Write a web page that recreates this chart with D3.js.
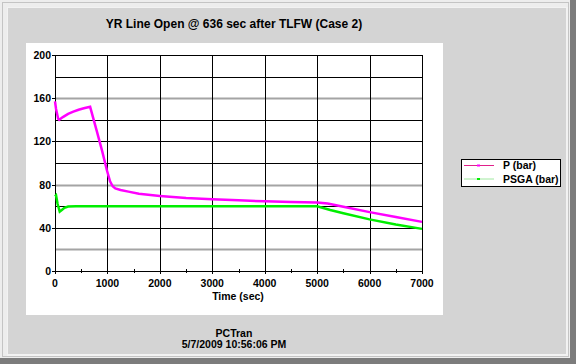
<!DOCTYPE html>
<html>
<head>
<meta charset="utf-8">
<script src="https://cdnjs.cloudflare.com/ajax/libs/d3/7.8.5/d3.min.js"></script>
<style>
  html, body { margin: 0; padding: 0; background: #d4d4d4; }
  svg text { font-family: "Liberation Sans", Arial, sans-serif; font-weight: bold; fill: #000; }
</style>
</head>
<body>
<div id="chart"></div>
<script>
const width = 576, height = 364;

// chart values
var title = "YR Line Open @ 636 sec after TLFW (Case 2)";
var xLabel = "Time (sec)";
var footer = ["PCTran", "5/7/2009 10:56:06 PM"];
var seriesNames = ["P (bar)", "PSGA (bar)"];
var seriesColors = ["#ff00ff", "#00ee00"];

var pTime = [0, 20, 60, 80, 150, 250, 350, 450, 550, 670, 800, 900, 986, 1050, 1100, 1150, 1250, 1400, 1600, 2000, 2500, 3000, 3500, 4000, 4500, 5000, 5200, 5500, 6000, 6500, 7000];
var pValues = [157, 150, 141, 140, 142.5, 145.5, 147.5, 149.3, 150.7, 152, 129, 111, 94, 83, 78.5, 76.5, 75, 73.5, 71.5, 69.5, 67.5, 66.5, 65.5, 64.5, 64, 63.5, 62.5, 59.5, 54.5, 50, 45.5];

var psgaTime = [0, 20, 50, 90, 130, 180, 250, 400, 1000, 2000, 3000, 4000, 5000, 5250, 5500, 6000, 6500, 7000];
var psgaValues = [69, 70, 62, 55, 56.5, 58.5, 59.7, 60, 60, 60, 60, 60, 60, 56.5, 53.5, 47.8, 43, 39];

var xTicks = [0, 1000, 2000, 3000, 4000, 5000, 6000, 7000];
var xMinorTicks = [500, 1500, 2500, 3500, 4500, 5500, 6500];
var yTicks = [0, 40, 80, 120, 160, 200];
var yGrid = [20, 40, 60, 80, 100, 120, 140, 160, 180, 200];
var yGridGray = [20, 80, 160];

const svg = d3.select("#chart").append("svg")
    .attr("width", width)
    .attr("height", height);

// window frame
svg.append("rect").attr("x", 0).attr("y", 0).attr("width", width).attr("height", height).attr("fill", "#ededed");
svg.append("rect").attr("x", 2.5).attr("y", 2.5).attr("width", 566).attr("height", 354)
    .attr("fill", "none").attr("stroke", "#c4c4c4");
svg.append("rect").attr("x", 570).attr("y", 0).attr("width", 6).attr("height", height).attr("fill", "#7c7c7c");
svg.append("rect").attr("x", 0).attr("y", 358).attr("width", width).attr("height", 6).attr("fill", "#7c7c7c");
svg.append("rect").attr("x", 7).attr("y", 7).attr("width", 561).attr("height", 349).attr("fill", "#f2f2f2");
svg.append("rect").attr("x", 8).attr("y", 8).attr("width", 558).attr("height", 346).attr("fill", "#d4d4d4");

// white plot panel
svg.append("rect").attr("x", 26).attr("y", 43).attr("width", 417).attr("height", 272).attr("fill", "#ffffff");

const x = d3.scaleLinear().domain([0, 7000]).range([55, 422]);
const y = d3.scaleLinear().domain([0, 200]).range([271, 55]);

// grid
svg.append("g").selectAll("line")
    .data(yGrid)
    .enter()
    .append("line")
    .attr("x1", x(0)).attr("x2", x(7000))
    .attr("y1", function(d) { return Math.round(y(d)) + 0.5; })
    .attr("y2", function(d) { return Math.round(y(d)) + 0.5; })
    .attr("stroke", function(d) { return yGridGray.includes(d) ? "#a4a4a4" : "#000"; })
    .attr("stroke-width", function(d) { return yGridGray.includes(d) ? 2 : 1; });

svg.append("g").selectAll("line")
    .data(xTicks.slice(1))
    .enter()
    .append("line")
    .attr("x1", function(d) { return Math.round(x(d)) + 0.5; })
    .attr("x2", function(d) { return Math.round(x(d)) + 0.5; })
    .attr("y1", y(200)).attr("y2", y(0) + 3)
    .attr("stroke", "#000");

// minor ticks on x axis
svg.append("g").selectAll("line")
    .data(xMinorTicks)
    .enter()
    .append("line")
    .attr("x1", function(d) { return Math.round(x(d)) + 0.5; })
    .attr("x2", function(d) { return Math.round(x(d)) + 0.5; })
    .attr("y1", y(0) - 2).attr("y2", y(0) + 2)
    .attr("stroke", "#000");

// axes lines
svg.append("line").attr("x1", x(0) + 0.5).attr("x2", x(0) + 0.5).attr("y1", y(200)).attr("y2", y(0) + 3).attr("stroke", "#000");
svg.append("line").attr("x1", x(0) - 3).attr("x2", x(7000) + 1).attr("y1", y(0) + 0.5).attr("y2", y(0) + 0.5).attr("stroke", "#000");

// y ticks + labels
svg.append("g").selectAll("line")
    .data(yTicks)
    .enter()
    .append("line")
    .attr("x1", x(0) - 3).attr("x2", x(0))
    .attr("y1", function(d) { return Math.round(y(d)) + 0.5; })
    .attr("y2", function(d) { return Math.round(y(d)) + 0.5; })
    .attr("stroke", "#000");

svg.append("g").selectAll("text")
    .data(yTicks)
    .enter()
    .append("text")
    .attr("x", 51)
    .attr("y", function(d) { return y(d) + 4; })
    .attr("text-anchor", "end")
    .attr("font-size", "10.5px")
    .text(function(d) { return d; });

svg.append("g").selectAll("text")
    .data(xTicks)
    .enter()
    .append("text")
    .attr("x", function(d) { return x(d); })
    .attr("y", 287)
    .attr("text-anchor", "middle")
    .attr("font-size", "10.5px")
    .text(function(d) { return d; });

svg.append("text")
    .attr("x", 238).attr("y", 300)
    .attr("text-anchor", "middle")
    .attr("font-size", "10.5px")
    .text(xLabel);

// series lines
var line = d3.line()
    .x(function(d) { return x(d[0]); })
    .y(function(d) { return y(d[1]); });

svg.append("path")
    .attr("d", line(d3.zip(psgaTime, psgaValues)))
    .attr("fill", "none")
    .attr("stroke", seriesColors[1])
    .attr("stroke-width", 2.5);

svg.append("path")
    .attr("d", line(d3.zip(pTime, pValues)))
    .attr("fill", "none")
    .attr("stroke", seriesColors[0])
    .attr("stroke-width", 2.5);

// title
svg.append("text")
    .attr("x", 234).attr("y", 28)
    .attr("text-anchor", "middle")
    .attr("font-size", "12px")
    .text(title);

// footer
svg.selectAll("text.footer")
    .data(footer)
    .enter()
    .append("text")
    .attr("class", "footer")
    .attr("x", 234)
    .attr("y", function(d, i) { return 337 + i * 10.5; })
    .attr("text-anchor", "middle")
    .attr("font-size", "10.5px")
    .text(function(d) { return d; });

// legend
const legend = svg.append("g");
legend.append("rect")
    .attr("x", 461.5).attr("y", 159.5).attr("width", 99).attr("height", 27)
    .attr("fill", "#fff").attr("stroke", "#000");

var items = legend.selectAll("g")
    .data(seriesNames)
    .enter()
    .append("g")
    .attr("transform", function(d, i) { return "translate(0," + (165.5 + i * 13.5) + ")"; });

items.append("line")
    .attr("x1", 464).attr("x2", 494)
    .attr("stroke", function(d, i) { return i == 0 ? "#e0208a" : "#a0e8a0"; });

items.append("rect")
    .attr("x", 477).attr("y", -1).attr("width", 3).attr("height", 2)
    .attr("fill", function(d, i) { return seriesColors[i]; });

items.append("text")
    .attr("x", 503).attr("y", 3.5)
    .attr("font-size", "10.5px")
    .text(function(d) { return d; });
</script>
</body>
</html>
